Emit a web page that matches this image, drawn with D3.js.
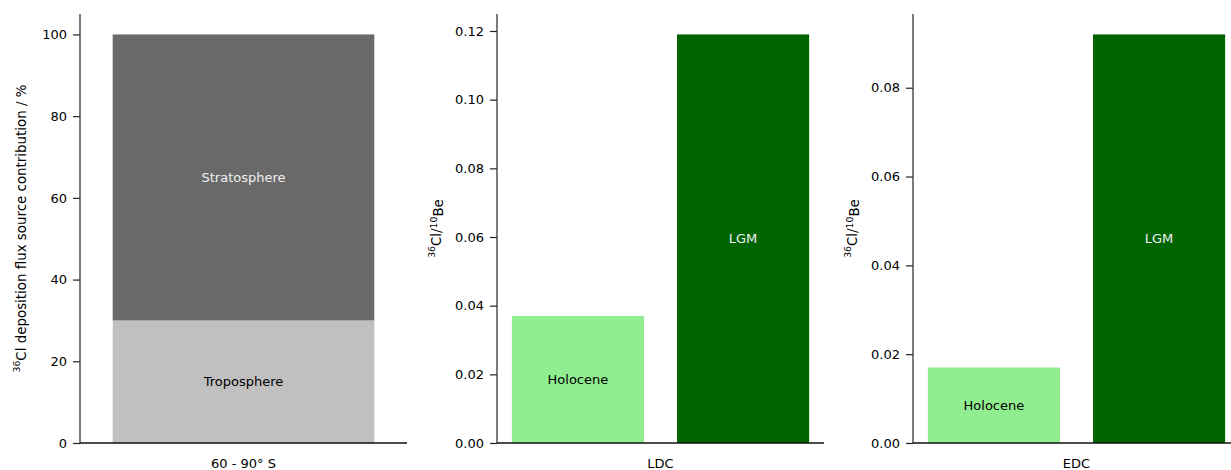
<!DOCTYPE html>
<html>
<head>
<meta charset="utf-8">
<script src="https://cdn.jsdelivr.net/npm/d3@7"></script>
<style>
  body { margin: 0; background: #fff; }
  svg { display: block; font-family: "DejaVu Sans", sans-serif; }
</style>
</head>
<body>
<svg id="chart" width="1231" height="470"></svg>
<script>
// Source contribution to 36Cl deposition flux, 60 - 90° S (%)
const sourceRegion = "60 - 90° S";
const sourceNames = ["Troposphere", "Stratosphere"];
const sourceShares = [30, 70];
const sourceTicks = [0, 20, 40, 60, 80, 100];

// 36Cl/10Be ratios per core and period
const periods = ["Holocene", "LGM"];
const coreNames = ["LDC", "EDC"];
const ldcRatios = [0.037, 0.119];
const edcRatios = [0.017, 0.092];
const ldcTicks = [0, 0.02, 0.04, 0.06, 0.08, 0.10, 0.12];
const edcTicks = [0, 0.02, 0.04, 0.06, 0.08];

const sourceColors = ["#c0c0c0", "#696969"];
const sourceTextColors = ["#000", "#f0f0f0"];
const periodColors = ["#90ee90", "#006400"];
const periodTextColors = ["#000", "#f0f0f0"];

const svg = d3.select("#chart");
const plotTop = 14, plotBottom = 443, panelW = 327;
const panelLeft = [80, 497, 913];
const fontSize = 13;
const labelSize = 13.4;

function drawAxes(g, y, ticks, fmt, xLabel) {
  // left spine with ticks
  const ax = g.append("g")
    .call(d3.axisLeft(y).tickValues(ticks).tickFormat(fmt).tickSize(7).tickPadding(6));
  ax.select(".domain").remove();
  ax.selectAll(".tick line").attr("stroke", "#222").attr("stroke-width", 1.2);
  ax.selectAll(".tick text").attr("font-size", fontSize).attr("fill", "#000")
    .attr("font-family", "DejaVu Sans, sans-serif");
  g.append("line").attr("x1", 0).attr("x2", 0).attr("y1", plotTop).attr("y2", plotBottom)
    .attr("stroke", "#333").attr("stroke-width", 1.3);
  g.append("line").attr("x1", 0).attr("x2", panelW).attr("y1", plotBottom).attr("y2", plotBottom)
    .attr("stroke", "#111").attr("stroke-width", 1.3);
  g.append("text").attr("x", panelW / 2).attr("y", 463).attr("dy", "0.35em")
    .attr("text-anchor", "middle").attr("font-size", fontSize).text(xLabel);
}

function yLabel(x) {
  return svg.append("text")
    .attr("transform", `translate(${x},${(plotTop + plotBottom) / 2}) rotate(-90)`)
    .attr("text-anchor", "middle").attr("font-size", labelSize);
}

// Panel 1: stacked source contribution
{
  const g = svg.append("g").attr("transform", `translate(${panelLeft[0]},0)`);
  const x = d3.scaleLinear().domain([-0.5, 0.5]).range([0, panelW]);
  const y = d3.scaleLinear().domain([0, 100 * 1.05]).range([plotBottom, plotTop]);
  let cum = 0;
  const stacks = sourceShares.map((v, i) => {
    const s = { name: sourceNames[i], y0: cum, y1: cum + v, i };
    cum += v;
    return s;
  });
  g.selectAll("rect.seg").data(stacks).enter().append("rect")
    .attr("x", x(-0.4)).attr("width", x(0.4) - x(-0.4))
    .attr("y", d => y(d.y1)).attr("height", d => y(d.y0) - y(d.y1))
    .attr("fill", d => sourceColors[d.i]);
  g.selectAll("text.seg").data(stacks).enter().append("text")
    .attr("x", x(0)).attr("y", d => y((d.y0 + d.y1) / 2)).attr("dy", "0.35em")
    .attr("text-anchor", "middle").attr("font-size", fontSize)
    .attr("fill", d => sourceTextColors[d.i]).text(d => d.name);
  drawAxes(g, y, sourceTicks, d3.format("d"), sourceRegion);
  const t = yLabel(24);
  t.append("tspan").attr("font-size", 9.3).attr("dy", "-0.45em").text("36");
  t.append("tspan").attr("dy", "0.45em").text("Cl deposition flux source contribution / %");
}

// Panels 2 and 3: 36Cl/10Be ratio per period
[[ldcRatios, ldcTicks, 439], [edcRatios, edcTicks, 855]].forEach(([vals, ticks, lx], k) => {
  const g = svg.append("g").attr("transform", `translate(${panelLeft[k + 1]},0)`);
  const x = d3.scaleLinear().domain([-0.49, 1.49]).range([0, panelW]);
  const y = d3.scaleLinear().domain([0, d3.max(vals) * 1.05]).range([plotBottom, plotTop]);
  const data = vals.map((v, i) => ({ name: periods[i], v, i }));
  g.selectAll("rect").data(data).enter().append("rect")
    .attr("x", d => x(d.i - 0.4)).attr("width", x(0.4) - x(-0.4))
    .attr("y", d => y(d.v)).attr("height", d => y(0) - y(d.v))
    .attr("fill", d => periodColors[d.i]);
  g.selectAll("text.lab").data(data).enter().append("text")
    .attr("x", d => x(d.i)).attr("y", d => y(d.v / 2)).attr("dy", "0.35em")
    .attr("text-anchor", "middle").attr("font-size", fontSize)
    .attr("fill", d => periodTextColors[d.i]).text(d => d.name);
  drawAxes(g, y, ticks, d3.format(".2f"), coreNames[k]);
  const t = yLabel(lx);
  t.append("tspan").attr("font-size", 9.3).attr("dy", "-0.45em").text("36");
  t.append("tspan").attr("dy", "0.45em").text("Cl/");
  t.append("tspan").attr("font-size", 9.3).attr("dy", "-0.45em").text("10");
  t.append("tspan").attr("dy", "0.45em").text("Be");
});
</script>
</body>
</html>
